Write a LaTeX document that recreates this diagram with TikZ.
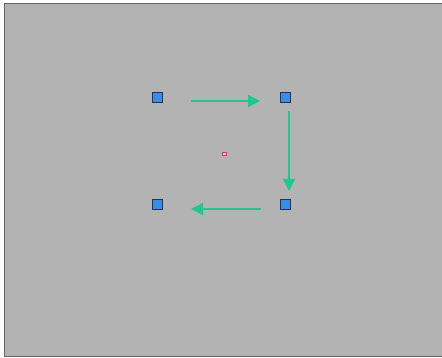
\documentclass[tikz,border=0pt]{standalone}
\usetikzlibrary{arrows.meta}
\definecolor{bggray}{RGB}{179,179,179}
\definecolor{framegray}{RGB}{100,100,100}
\definecolor{sqblue}{RGB}{58,140,230}
\definecolor{sqedge}{RGB}{40,50,70}
\definecolor{arrgreen}{RGB}{30,200,140}
\definecolor{ctrred}{RGB}{220,60,80}
\tikzset{
  px/.style={x=1pt,y=-1pt},
  sq/.style={draw=sqedge,fill=sqblue,line width=0.8pt,minimum size=10pt,inner sep=0pt},
  flow/.style={draw=arrgreen,line width=1.4pt,-{Triangle[length=12pt,width=12pt]}},
  ctr/.style={draw=ctrred,fill=ctrred!30,line width=0.6pt,minimum width=4pt,minimum height=3pt,inner sep=0pt}
}
\begin{document}
\begin{tikzpicture}[px]
\useasboundingbox (0,0) rectangle (442,358);
\draw[draw=framegray,fill=bggray,line width=1.2pt] (4.5,3.5) rectangle (445,356.5);
\node[sq] (a) at (157,97) {};
\node[sq] (b) at (285,97) {};
\node[sq] (c) at (285,204) {};
\node[sq] (d) at (157,204) {};
\node[ctr] (m) at (224,154) {};
\coordinate (t1) at (191,101);
\coordinate (t2) at (260,101);
\coordinate (r1) at (289,111);
\coordinate (r2) at (289,191);
\coordinate (b1) at (261,209);
\coordinate (b2) at (191,209);
\draw[flow] (t1) -- (t2);
\draw[flow] (r1) -- (r2);
\draw[flow] (b1) -- (b2);
\end{tikzpicture}
\end{document}
